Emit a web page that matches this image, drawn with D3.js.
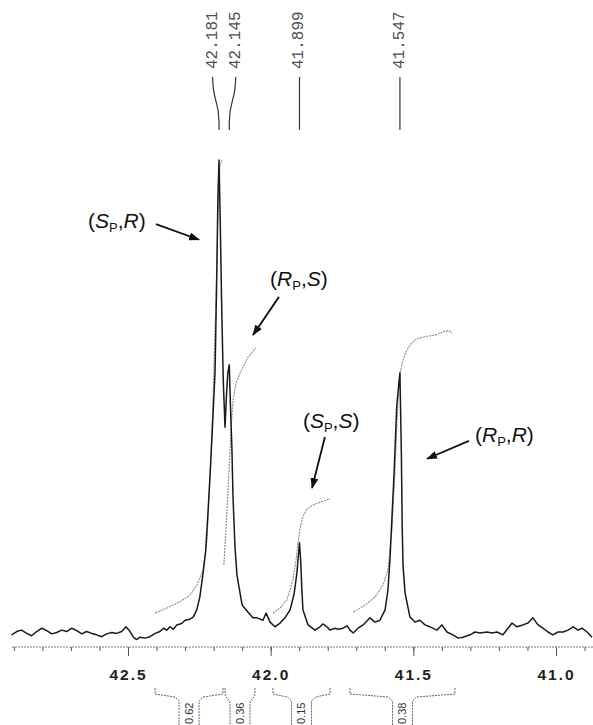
<!DOCTYPE html>
<html lang="en">
<head>
<meta charset="UTF-8">
<title>31P NMR spectrum</title>
<script src="https://cdn.jsdelivr.net/npm/d3@7"></script>
<style>
  body { margin: 0; background: #fff; }
  svg { display: block; }
  .axis line { stroke: #555; }
  .axis text { font-family: "Liberation Sans", Arial, sans-serif; font-weight: bold; font-size: 15.5px; letter-spacing: 2px; fill: #222; }
  .shift text { font-family: "Liberation Mono", monospace; font-size: 16px; fill: #505050; }
  .note { font-family: "Liberation Sans", Arial, sans-serif; font-size: 21px; fill: #111; }
  .intlabel { font-family: "Liberation Sans", Arial, sans-serif; font-size: 11px; fill: #333; }
</style>
</head>
<body>
<div id="chart"></div>
<script>
// spectrum trace: [ppm, intensity]
var spectrum = [
  [42.908,-0.6],[42.890,0.1],[42.873,0.4],[42.855,-0.3],[42.838,-0.8],[42.820,0.1],[42.802,0.8],[42.785,0.3],
  [42.767,-0.4],[42.750,-0.1],[42.732,0.4],[42.715,0.1],[42.697,0.8],[42.680,0.3],[42.662,-0.4],[42.645,0.1],
  [42.627,-0.3],[42.610,-0.6],[42.592,-1.0],[42.575,-0.4],[42.557,-0.1],[42.540,-0.3],[42.522,0.1],[42.507,1.1],
  [42.493,0.1],[42.481,-1.1],[42.470,-1.6],[42.458,-1.1],[42.440,-1.3],[42.423,-1.0],[42.405,-0.3],[42.388,0.1],
  [42.376,0.8],[42.364,0.4],[42.353,1.1],[42.341,0.6],[42.329,1.5],[42.312,1.8],[42.300,2.5],[42.283,2.7],
  [42.271,3.2],[42.259,4.7],[42.248,7.5],[42.237,12.4],[42.228,17],[42.219,26],[42.210,36],[42.202,46],
  [42.195,55],[42.189,75],[42.185,92],[42.181,100],[42.177,88],[42.172,70],[42.166,53],[42.160,43.4],
  [42.155,50],[42.150,55],[42.145,56.6],[42.141,48],[42.136,39.2],[42.132,28.6],[42.125,18],[42.118,12],
  [42.100,5.7],[42.079,4.2],[42.062,3.0],[42.048,3.0],[42.027,2.5],[42.016,4.0],[42.002,2.1],[41.985,1.1],
  [41.967,1.9],[41.950,3.0],[41.932,4.7],[41.918,8],[41.908,12.5],[41.899,18.9],[41.895,15.3],[41.891,9.5],
  [41.887,4.7],[41.869,1.5],[41.845,0.4],[41.827,1.1],[41.817,1.7],[41.803,1.1],[41.792,0.4],[41.775,0.8],
  [41.764,0.6],[41.746,0.8],[41.732,1.3],[41.722,0.4],[41.711,-0.2],[41.694,0.8],[41.676,1.5],[41.652,3.0],
  [41.634,2.1],[41.617,2.5],[41.599,4.7],[41.589,8.9],[41.582,15.3],[41.568,33],[41.558,48],[41.547,54.9],
  [41.542,38],[41.539,22],[41.536,14],[41.529,8.3],[41.512,3.2],[41.494,2.1],[41.477,2.5],[41.459,1.5],
  [41.442,1.1],[41.417,0.4],[41.400,1.5],[41.382,0],[41.361,-0.6],[41.343,-1.3],[41.326,-1.1],[41.301,-0.6],
  [41.284,0],[41.266,-0.2],[41.242,0],[41.224,-0.2],[41.207,0],[41.186,-0.6],[41.168,0.8],[41.154,1.9],
  [41.137,1.1],[41.116,1.5],[41.098,1.9],[41.081,3.0],[41.063,1.5],[41.046,0.8],[41.028,0],[41.011,-0.6],
  [40.993,0],[40.975,0],[40.958,0.4],[40.940,1.1],[40.923,0.4],[40.909,0.8],[40.891,0],[40.874,-1.1]
];

// integral curves
var integral1 = [[42.405,4.0],[42.370,4.9],[42.318,6.4],[42.283,7.8],[42.258,10],[42.237,13.1],[42.223,19.5],
  [42.213,32.2],[42.202,49.2],[42.192,70.3],[42.185,87.3],[42.178,98.9],[42.171,100]];
var integral2 = [[42.164,14.2],[42.153,25.8],[42.146,34.3],[42.139,42.8],[42.132,49.2],[42.121,52.8],
  [42.107,54.9],[42.093,56.6],[42.079,58.3],[42.065,59.3],[42.051,60.2]];
var integral3 = [[41.992,4.0],[41.967,5.1],[41.943,6.8],[41.922,11.0],[41.911,15.3],[41.904,18.9],
  [41.897,22.0],[41.887,24.4],[41.873,26.1],[41.852,26.9],[41.827,27.5],[41.792,28.2]];
var integral4 = [[41.711,4.2],[41.669,5.7],[41.634,7.4],[41.606,10.0],[41.589,13.1],[41.575,21.6],
  [41.564,34.3],[41.557,44.9],[41.550,53.4],[41.543,55.9],[41.536,57.6],[41.526,59.3],[41.512,60.8],
  [41.494,61.9],[41.477,62.3],[41.449,62.7],[41.424,62.9],[41.407,63.3],[41.389,63.8],[41.375,63.8],[41.364,63.3]];

var peakShifts = [42.181, 42.145, 41.899, 41.547];

var integralRanges = [[42.405, 42.167], [42.160, 42.055], [41.992, 41.792], [41.722, 41.354]];
var integralValues = ["0.62", "0.36", "0.15", "0.38"];

var majorTicks = [42.5, 42.0, 41.5, 41.0];
var tickLabels = ["42.5", "42.0", "41.5", "41.0"];

// diastereomer annotations
var noteNames = [["S", "R"], ["R", "S"], ["S", "S"], ["R", "R"]];
var noteAt = [[42.640, 85.6], [42.002, 73.3], [41.887, 43.2], [41.284, 40.3]];
var arrowFrom = [[42.402, 86.4], [41.971, 71.0], [41.810, 41.3], [41.305, 40.5]];
var arrowTo = [[42.251, 83.1], [42.062, 62.9], [41.855, 30.5], [41.452, 36.7]];

var W = 593, H = 725, axisY = 647;

var svg = d3.select("#chart").append("svg")
  .attr("width", W).attr("height", H);

svg.append("rect").attr("width", W).attr("height", H).attr("fill", "#fff");

var defs = svg.append("defs");
defs.append("marker")
  .attr("id", "arrow")
  .attr("markerUnits", "userSpaceOnUse")
  .attr("markerWidth", 11).attr("markerHeight", 8)
  .attr("refX", 10).attr("refY", 4)
  .attr("orient", "auto")
  .append("path").attr("d", "M0,0 L11,4 L0,8 Z").attr("fill", "#111");

var x = d3.scaleLinear().domain([42.5, 41.0]).range([128, 556]);
var y = d3.scaleLinear().domain([0, 100]).range([632, 160]);

var line = d3.line()
  .x(function (d) { return x(d[0]); })
  .y(function (d) { return y(d[1]); });

// integrals
[integral1, integral2, integral3, integral4].forEach(function (s) {
  svg.append("path")
    .attr("d", line(s))
    .attr("fill", "none")
    .attr("stroke", "#888")
    .attr("stroke-width", 1.1)
    .attr("stroke-dasharray", "2,1");
});

// spectrum
svg.append("path")
  .attr("d", line(spectrum))
  .attr("fill", "none")
  .attr("stroke", "#1a1a1a")
  .attr("stroke-width", 1.5)
  .attr("stroke-linejoin", "round");

// axis
svg.append("line")
  .attr("x1", 12).attr("x2", W).attr("y1", axisY).attr("y2", axisY)
  .attr("stroke", "#777").attr("stroke-dasharray", "2,1");

var minorTicks = d3.range(0, 21).map(function (i) { return +(42.9 - i * 0.1).toFixed(1); });

var minor = svg.append("g").attr("class", "axis")
  .attr("transform", "translate(0," + axisY + ")")
  .call(d3.axisBottom(x).tickValues(minorTicks).tickSize(4).tickFormat(""));
minor.select(".domain").remove();

var major = svg.append("g").attr("class", "axis")
  .attr("transform", "translate(0," + axisY + ")")
  .call(d3.axisBottom(x).tickValues(majorTicks).tickSize(9).tickPadding(13)
    .tickFormat(function (d, i) { return tickLabels[i]; }));
major.select(".domain").remove();
minor.attr("font-family", null).attr("font-size", null);
major.attr("font-family", null).attr("font-size", null);

// peak shift labels (spread apart where crowded)
var peakX = peakShifts.map(function (d) { return x(d); });
var labX = peakX.slice();
for (var i = 1; i < labX.length; i++) {
  var gap = labX[i] - labX[i - 1];
  if (gap < 23) {
    var push = (23 - gap) / 2;
    labX[i - 1] -= push;
    labX[i] += push;
  }
}

var shift = svg.append("g").attr("class", "shift");
peakShifts.forEach(function (d, i) {
  var lx = labX[i], px = peakX[i];
  shift.append("text")
    .attr("transform", "translate(" + lx + ",69) rotate(-90)")
    .attr("dominant-baseline", "central")
    .text(d.toFixed(3));
  shift.append("path")
    .attr("d", "M" + lx + ",77 C" + lx + ",102 " + px + ",100 " + px + ",122 V130")
    .attr("fill", "none").attr("stroke", "#333").attr("stroke-width", 1.2);
});

// integral brackets under the axis
var br = svg.append("g");
integralRanges.forEach(function (r, i) {
  var x1 = x(r[0]), x2 = x(r[1]), cx = (x1 + x2) / 2;
  br.append("path")
    .attr("d", "M" + x1 + ",688 V694 L" + (cx - 14) + ",697 L" + (cx - 10) + ",701 V725" +
      " M" + x2 + ",688 V694 L" + (cx + 14) + ",697 L" + (cx + 10) + ",701 V725")
    .attr("fill", "none").attr("stroke", "#666").attr("stroke-width", 1)
    .attr("stroke-dasharray", "2,1");
  br.append("text")
    .attr("class", "intlabel")
    .attr("transform", "translate(" + cx + ",724) rotate(-90)")
    .attr("dominant-baseline", "central")
    .text(integralValues[i]);
});

// annotations with arrows
noteNames.forEach(function (n, i) {
  var t = svg.append("text").attr("class", "note")
    .attr("x", x(noteAt[i][0])).attr("y", y(noteAt[i][1]));
  t.append("tspan").text("(");
  t.append("tspan").attr("font-style", "italic").text(n[0]);
  t.append("tspan").attr("font-size", 13).attr("dy", 4).text("P");
  t.append("tspan").attr("dy", -4).text(",");
  t.append("tspan").attr("font-style", "italic").text(n[1]);
  t.append("tspan").text(")");

  svg.append("line")
    .attr("x1", x(arrowFrom[i][0])).attr("y1", y(arrowFrom[i][1]))
    .attr("x2", x(arrowTo[i][0])).attr("y2", y(arrowTo[i][1]))
    .attr("stroke", "#111").attr("stroke-width", 1.8)
    .attr("marker-end", "url(#arrow)");
});
</script>
</body>
</html>
